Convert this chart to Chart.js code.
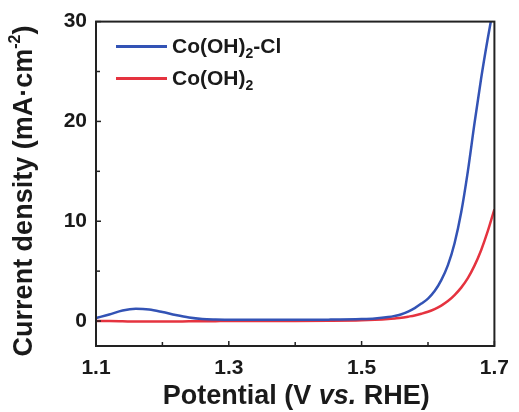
<!DOCTYPE html>
<html><head><meta charset="utf-8">
<script src="https://cdn.jsdelivr.net/npm/chart.js@4/dist/chart.umd.min.js"></script>
<style>html,body{margin:0;padding:0;background:#fff}</style>
</head><body>
<canvas id="c" width="519" height="412" style="width:519px;height:412px;display:block"></canvas>
<script>
const potential = [1.10,1.12,1.14,1.16,1.18,1.20,1.22,1.24,1.26,1.28,1.30,1.35,1.40,1.45,1.50,1.52,1.54,1.55,1.56,1.57,1.58,1.59,1.60,1.61,1.62,1.63,1.64,1.65,1.66,1.67,1.68,1.69,1.70];
const currentCoOHCl = [0.3,0.65,1.05,1.22,1.15,0.9,0.6,0.35,0.2,0.15,0.13,0.12,0.12,0.14,0.2,0.26,0.4,0.52,0.68,0.95,1.3,1.75,2.25,3.0,4.1,5.6,7.8,10.9,15.0,19.8,24.3,28.3,32.0];
const currentCoOH = [0.0,0.0,-0.02,-0.05,-0.05,-0.05,-0.04,-0.03,-0.02,-0.01,0.0,0.0,0.0,0.02,0.07,0.12,0.2,0.26,0.33,0.44,0.56,0.73,0.93,1.2,1.55,2.0,2.6,3.35,4.3,5.55,7.1,9.0,11.2];
const xTickValues = [1.1,1.3,1.5,1.7];
const xMinorTicks = [1.2,1.4,1.6];
const yTickValues = [0,10,20,30];
const yMinorTicks = [5,15,25];
const seriesLabels = [['Co(OH)','2','-Cl'],['Co(OH)','2','']];
const seriesColors = ['#3353b5','#e5333f'];

const FONT = '"Liberation Sans", Arial, sans-serif';
const INK = '#1a1a1a';

const framePlugin = {
  id: 'frame',
  afterDatasetsDraw(chart) {
    const {ctx, chartArea: a, scales: {x, y}} = chart;
    ctx.save();
    ctx.strokeStyle = '#222';
    ctx.lineWidth = 2;
    ctx.strokeRect(a.left, a.top, a.right - a.left, a.bottom - a.top);
    ctx.lineWidth = 1.5;
    const tick = (px, py, dx, dy) => { ctx.beginPath(); ctx.moveTo(px, py); ctx.lineTo(px + dx, py + dy); ctx.stroke(); };
    xTickValues.forEach(v => tick(x.getPixelForValue(v), a.bottom, 0, -5));
    xMinorTicks.forEach(v => tick(x.getPixelForValue(v), a.bottom, 0, -4));
    yTickValues.forEach(v => tick(a.left, y.getPixelForValue(v), 5, 0));
    yMinorTicks.forEach(v => tick(a.left, y.getPixelForValue(v), 4, 0));

    // legend
    const lx0 = a.left + 20, lx1 = a.left + 71, tx = a.left + 76;
    const rows = [a.top + 25, a.top + 57];
    seriesLabels.forEach((parts, i) => {
      const ly = rows[i];
      ctx.strokeStyle = seriesColors[i];
      ctx.lineWidth = 3;
      tick(lx0, ly, lx1 - lx0, 0);
      ctx.fillStyle = INK;
      ctx.textBaseline = 'middle';
      ctx.textAlign = 'left';
      let cx = tx;
      ctx.font = 'bold 21px ' + FONT;
      ctx.fillText(parts[0], cx, ly + 1); cx += ctx.measureText(parts[0]).width;
      ctx.font = 'bold 14px ' + FONT;
      ctx.fillText(parts[1], cx, ly + 8); cx += ctx.measureText(parts[1]).width;
      ctx.font = 'bold 21px ' + FONT;
      if (parts[2]) ctx.fillText(parts[2], cx, ly + 1);
    });

    // axis titles
    ctx.fillStyle = INK;
    ctx.textBaseline = 'middle';
    ctx.textAlign = 'left';
    const xt = [['Potential (V ', 'bold 27px '], ['vs.', 'italic bold 27px '], [' RHE)', 'bold 27px ']];
    let w = 0;
    xt.forEach(([t, f]) => { ctx.font = f + FONT; w += ctx.measureText(t).width; });
    let cx = (a.left + a.right) / 2 + 1 - w / 2;
    xt.forEach(([t, f]) => { ctx.font = f + FONT; ctx.fillText(t, cx, 397); cx += ctx.measureText(t).width; });

    ctx.save();
    ctx.translate(25, 191);
    ctx.rotate(-Math.PI / 2);
    const yt = [['Current density (mA\u00b7cm', 'bold 27px ', 0], ['-2', 'bold 16px ', -9], [')', 'bold 27px ', 0]];
    w = 0;
    yt.forEach(([t, f]) => { ctx.font = f + FONT; w += ctx.measureText(t).width; });
    cx = -w / 2;
    yt.forEach(([t, f, dy]) => { ctx.font = f + FONT; ctx.fillText(t, cx, dy); cx += ctx.measureText(t).width; });
    ctx.restore();
    ctx.restore();
  }
};

new Chart(document.getElementById('c'), {
  type: 'line',
  data: {
    datasets: [
      { label: 'Co(OH)2-Cl', data: potential.map((p, i) => ({x: p, y: currentCoOHCl[i]})), borderColor: seriesColors[0], borderWidth: 2.5, pointRadius: 0, cubicInterpolationMode: 'monotone' },
      { label: 'Co(OH)2', data: potential.map((p, i) => ({x: p, y: currentCoOH[i]})), borderColor: seriesColors[1], borderWidth: 2.5, pointRadius: 0, cubicInterpolationMode: 'monotone' }
    ]
  },
  options: {
    responsive: false,
    animation: false,
    devicePixelRatio: 1,
    layout: { padding: { left: 0, top: 20, right: 20, bottom: 0 } },
    plugins: { legend: { display: false }, tooltip: { enabled: false } },
    scales: {
      x: {
        type: 'linear', min: 1.1, max: 1.7,
        grid: { display: false, drawTicks: false }, border: { display: false },
        afterBuildTicks: s => { s.ticks = xTickValues.map(v => ({value: v})); },
        afterFit: s => { s.height = 66; },
        ticks: { padding: 10, color: INK, font: { family: FONT, size: 21, weight: 'bold' }, callback: v => v.toFixed(1), maxRotation: 0 }
      },
      y: {
        type: 'linear', min: -2.5, max: 30,
        grid: { display: false, drawTicks: false }, border: { display: false },
        afterBuildTicks: s => { s.ticks = yTickValues.map(v => ({value: v})); },
        afterFit: s => { s.width = 96; },
        ticks: { padding: 9, color: INK, font: { family: FONT, size: 21, weight: 'bold' } }
      }
    }
  },
  plugins: [framePlugin]
});
</script>
</body></html>
